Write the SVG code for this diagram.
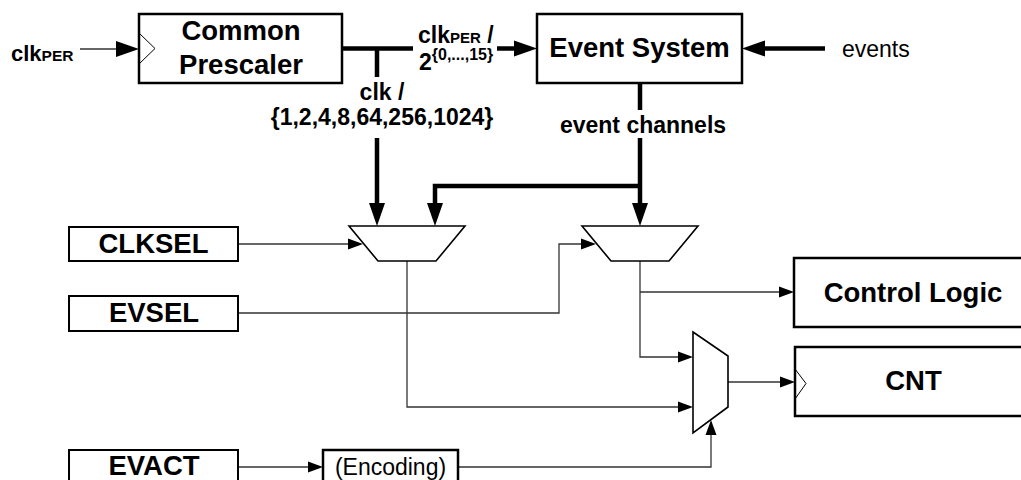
<svg xmlns="http://www.w3.org/2000/svg" width="1021" height="480" viewBox="0 0 1021 480">
<style>
text{font-family:"Liberation Sans",Arial,Helvetica,sans-serif;fill:#000}
.b{font-weight:bold}
.big{font-size:27.5px;font-weight:bold}
.mid{font-size:23px;font-weight:bold}
.box{fill:#fff;stroke:#000;stroke-width:2.5}
.sbox{fill:#fff;stroke:#000;stroke-width:2}
.mux{fill:#fff;stroke:#000;stroke-width:1.6;stroke-linejoin:miter}
.thick{fill:none;stroke:#000;stroke-width:4.5;stroke-linejoin:miter}
.thin{fill:none;stroke:#333;stroke-width:1.3}
.clk{fill:none;stroke:#000;stroke-width:1}
</style>
<defs>
<marker id="ab" markerUnits="userSpaceOnUse" markerWidth="24" markerHeight="18" refX="0" refY="0" orient="auto" overflow="visible"><path d="M0,-8 L23,0 L0,8 z" fill="#000"/></marker>
<marker id="as" markerUnits="userSpaceOnUse" markerWidth="16" markerHeight="12" refX="0" refY="0" orient="auto" overflow="visible"><path d="M0,-5.5 L15,0 L0,5.5 z" fill="#000"/></marker>
</defs>
<rect width="1021" height="480" fill="#fff"/>

<g id="connectors">
<path class="thin" d="M80,49 H116" stroke="#000" stroke-width="1.5" marker-end="url(#ab)"/>
<path class="thick" d="M342,48.5 H413"/>
<path class="thick" d="M377,48.5 V77"/>
<path class="thick" d="M497,48.5 H514" marker-end="url(#ab)"/>
<path class="thick" d="M825,48.5 H765" marker-end="url(#ab)"/>
<path class="thick" d="M640,83 V110"/>
<path class="thick" d="M640,138 V203" marker-end="url(#ab)"/>
<path class="thick" d="M377,138 V203" marker-end="url(#ab)"/>
<path class="thick" d="M640,186 H435 V203" marker-end="url(#ab)"/>
<path class="thin" d="M238,244 H348" marker-end="url(#as)"/>
<path class="thin" d="M238,313 H559 V244 H581" marker-end="url(#as)"/>
<path class="thin" d="M407,261 V407 H678" marker-end="url(#as)"/>
<path class="thin" d="M640,261 V357 H678" marker-end="url(#as)"/>
<path class="thin" d="M640,292 H779" marker-end="url(#as)"/>
<path class="thin" d="M728,382 H780" marker-end="url(#as)"/>
<path class="thin" d="M238,467 H308" marker-end="url(#as)"/>
<path class="thin" d="M458,467 H711 V435" marker-end="url(#as)"/>
</g>

<g id="clk-per-in">
<text x="11" y="61" style="font-size:22px" class="b">clk<tspan style="font-size:15.5px">PER</tspan></text>
</g>

<g id="common-prescaler">
<rect class="box" x="139" y="14" width="203" height="69"/>
<polyline class="clk" points="139,33 155,48.5 139,64"/>
<text class="big" x="241" y="40" text-anchor="middle">Common</text>
<text class="big" x="241" y="74" text-anchor="middle">Prescaler</text>
</g>

<g id="label-clkper-div">
<text x="418" y="43" class="b" style="font-size:23px">clk<tspan style="font-size:15px">PER</tspan> /</text>
<text x="419" y="70" class="b" style="font-size:23px">2<tspan style="font-size:16px" dy="-10">{0,...,15}</tspan></text>
</g>

<g id="label-clk-div">
<text class="mid" x="382" y="100" text-anchor="middle">clk /</text>
<text class="mid" x="382" y="125" text-anchor="middle">{1,2,4,8,64,256,1024}</text>
</g>

<g id="event-system">
<rect class="box" x="537" y="14" width="205" height="69"/>
<text class="big" x="639.5" y="57" text-anchor="middle">Event System</text>
</g>

<g id="events-in">
<text x="842" y="57" style="font-size:23px">events</text>
</g>

<g id="label-event-channels">
<text class="mid" x="643" y="133" text-anchor="middle">event channels</text>
</g>

<g id="clksel">
<rect class="sbox" x="69" y="227" width="169" height="34"/>
<text class="big" x="153.5" y="253" text-anchor="middle">CLKSEL</text>
</g>

<g id="evsel">
<rect class="sbox" x="69" y="296" width="169" height="35"/>
<text class="big" x="154" y="322" text-anchor="middle">EVSEL</text>
</g>

<g id="evact">
<rect class="sbox" x="69" y="450" width="169" height="45"/>
<text class="big" x="154" y="475" text-anchor="middle">EVACT</text>
</g>

<g id="encoding">
<rect class="box" x="323" y="450" width="135" height="45"/>
<text x="390.5" y="475" text-anchor="middle" style="font-size:23px">(Encoding)</text>
</g>

<g id="mux-clk">
<polygon class="mux" points="349,226 465,226 436,261 378,261"/>
</g>

<g id="mux-ev">
<polygon class="mux" points="582,226 698,226 669,261 611,261"/>
</g>

<g id="mux-cnt">
<polygon class="mux" points="693,332 728,356 728,407 693,433"/>
</g>

<g id="control-logic">
<rect class="box" x="794" y="258" width="240" height="69"/>
<text class="big" x="913" y="302" text-anchor="middle">Control Logic</text>
</g>

<g id="cnt">
<rect class="box" x="795" y="347" width="240" height="69"/>
<polyline class="clk" points="795,369 806,383.5 795,399"/>
<text class="big" x="913.5" y="390" text-anchor="middle">CNT</text>
</g>
</svg>
